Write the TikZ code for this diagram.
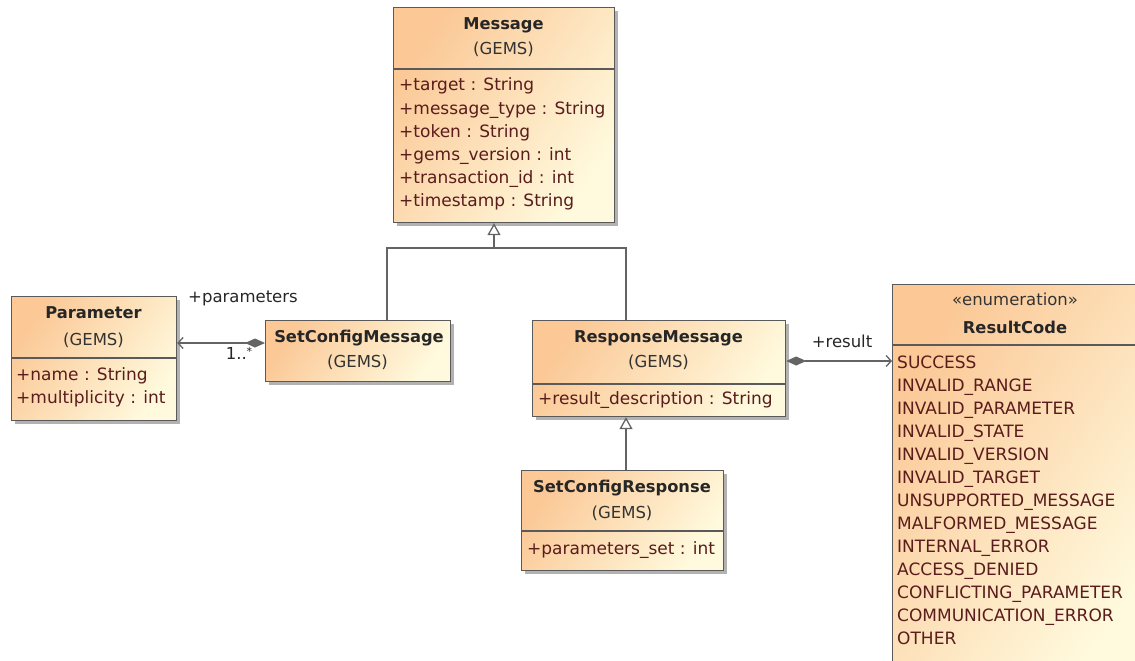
\documentclass[tikz,border=0pt]{standalone}
\usepackage{fontspec}
\setmainfont{DejaVu Sans}
\usetikzlibrary{arrows.meta,shadows}
\definecolor{clsL}{RGB}{251,200,150}
\definecolor{clsR}{RGB}{255,250,222}
\definecolor{attr}{RGB}{90,28,28}
\definecolor{border}{RGB}{90,90,90}
\definecolor{conn}{RGB}{100,100,100}
\tikzset{
  classbox/.style={draw=border, line width=1.2pt, anchor=north west, inner sep=0pt,
     left color=clsL, right color=clsR, shading angle=55,
     drop shadow={shadow xshift=3pt,shadow yshift=-3pt,fill=black!30,opacity=1}},
  divider/.style={draw=border, line width=1.1pt},
  title/.style={anchor=base, inner sep=0pt, font=\fontsize{16.3}{18}\selectfont\bfseries, text=black!85},
  pkg/.style={anchor=base, inner sep=0pt, font=\fontsize{16.5}{18}\selectfont, text=black!80},
  attrtxt/.style={anchor=base west, inner sep=0pt, font=\fontsize{17}{18}\selectfont, text=attr},
  lbl/.style={anchor=base, inner sep=0pt, font=\fontsize{16.5}{18}\selectfont, text=black!85},
  conline/.style={draw=conn, line width=1.3pt},
  gentip/.style={-{Triangle[open,length=12pt,width=13pt,fill=white]}},
  assoc/.style={{Diamond[length=20pt,width=9pt,fill=conn]}-{Straight Barb[length=5pt,width=11pt]}}
}
\begin{document}
\begin{tikzpicture}[x=1pt,y=-1pt]
\useasboundingbox (0,0) rectangle (1135,661);
% ---- Message
\node[classbox, minimum width=221pt, minimum height=215pt] (msg) at (393,7) {};
\draw[divider] (msg.west |- 0,69) -- (msg.east |- 0,69);
\node[title] (msgT) at (503.5,30) {Message};
\node[pkg] (msgP) at (503.5,55) {(GEMS)};
\node[attrtxt] (m1) at (399,91) {+target : String};
\node[attrtxt] (m2) at (399,114) {+message\_type : String};
\node[attrtxt] (m3) at (399,137) {+token : String};
\node[attrtxt] (m4) at (399,160) {+gems\_version : int};
\node[attrtxt] (m5) at (399,183) {+transaction\_id : int};
\node[attrtxt] (m6) at (399,206) {+timestamp : String};
% ---- Parameter
\node[classbox, minimum width=165pt, minimum height=124pt] (par) at (11,296) {};
\draw[divider] (par.west |- 0,358) -- (par.east |- 0,358);
\node[title] (parT) at (93.5,318) {Parameter};
\node[pkg] (parP) at (93.5,345) {(GEMS)};
\node[attrtxt] (p1) at (16,380) {+name : String};
\node[attrtxt] (p2) at (16,403) {+multiplicity : int};
% ---- SetConfigMessage
\node[classbox, minimum width=185pt, minimum height=61pt] (scm) at (265,320) {};
\node[title] (scmT) at (359,342) {SetConfigMessage};
\node[pkg] (scmP) at (357.5,367) {(GEMS)};
% ---- ResponseMessage
\node[classbox, minimum width=253pt, minimum height=96pt] (rsp) at (532,320) {};
\draw[divider] (rsp.west |- 0,384) -- (rsp.east |- 0,384);
\node[title] (rspT) at (658.5,342) {ResponseMessage};
\node[pkg] (rspP) at (658.5,367) {(GEMS)};
\node[attrtxt] (r1) at (538,404) {+result\_description : String};
% ---- SetConfigResponse
\node[classbox, minimum width=202pt, minimum height=100pt] (scr) at (521,470) {};
\draw[divider] (scr.west |- 0,531) -- (scr.east |- 0,531);
\node[title] (scrT) at (622,492) {SetConfigResponse};
\node[pkg] (scrP) at (622,518) {(GEMS)};
\node[attrtxt] (s1) at (527,554) {+parameters\_set : int};
% ---- ResultCode
\node[classbox, minimum width=260pt, minimum height=390pt] (rc) at (892,284) {};
\draw[divider] (rc.west |- 0,345) -- (1135,345);
\node[pkg] (rcS) at (1015,305) {\fontsize{16.5}{18}\selectfont«enumeration»};
\node[title] (rcT) at (1015,333) {ResultCode};
\foreach \t [count=\i from 0] in {SUCCESS,INVALID\_RANGE,INVALID\_PARAMETER,INVALID\_STATE,INVALID\_VERSION,INVALID\_TARGET,UNSUPPORTED\_MESSAGE,MALFORMED\_MESSAGE,INTERNAL\_ERROR,ACCESS\_DENIED,CONFLICTING\_PARAMETER,COMMUNICATION\_ERROR,OTHER}
  \node[attrtxt] (rc\i) at (897,368+23*\i) {\t};
% ---- Generalizations
\coordinate (gj) at (494,248);
\draw[conline] (scm.north -| 387,0) |- (gj);
\draw[conline] (rsp.north -| 626,0) |- (gj);
\draw[conline, gentip] (gj) -- (msg.south -| gj);
\draw[conline, gentip] (scr.north -| 626,0) -- (rsp.south -| 626,0);
% ---- Associations
\draw[conline, assoc] (scm.west |- 0,343) -- (par.east |- 0,343);
\node[lbl] (lpar) at (243,302) {+parameters};
\node[lbl] (lmul) at (239,359) {1..\raisebox{4pt}{\fontsize{11}{11}\selectfont *}};
\draw[conline, assoc] (rsp.east |- 0,361) -- (rc.west |- 0,361);
\node[lbl] (lres) at (842,347) {+result};
\end{tikzpicture}
\end{document}
